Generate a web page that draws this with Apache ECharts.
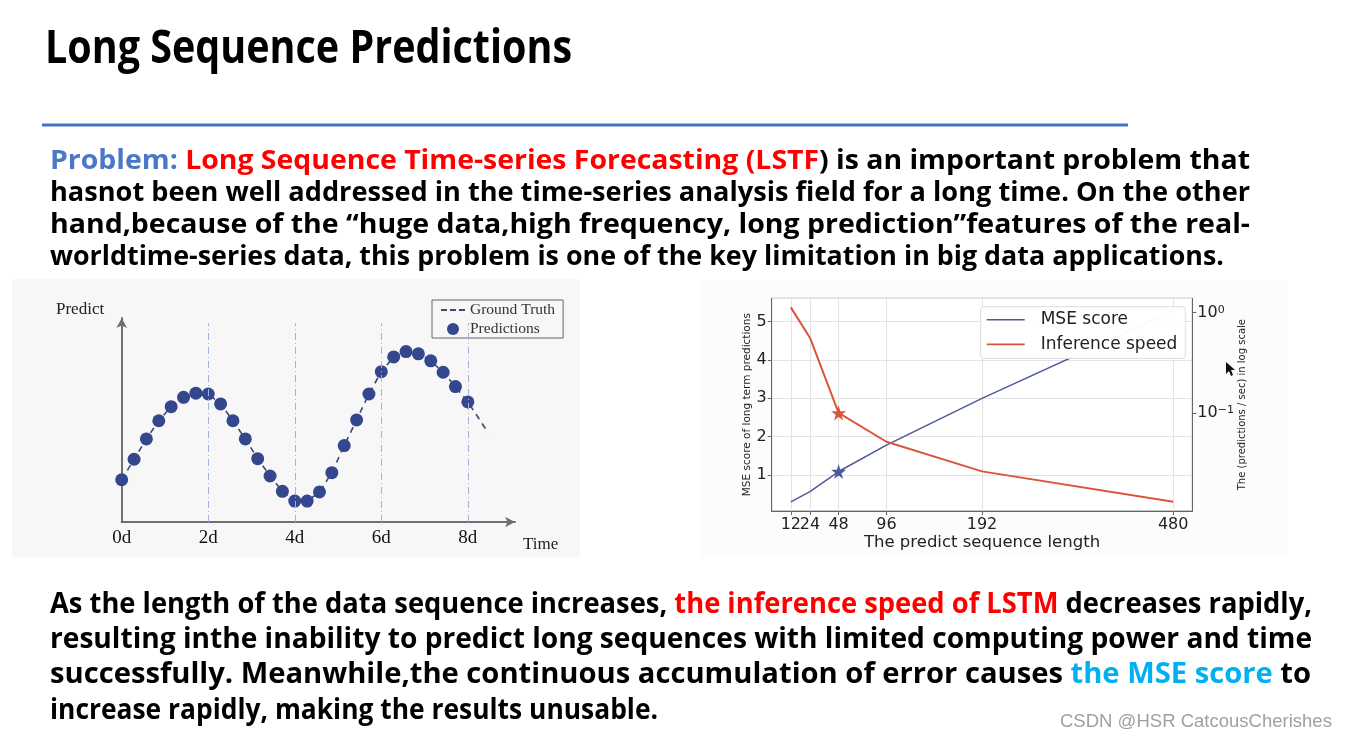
<!DOCTYPE html>
<html><head><meta charset="utf-8">
<script src="https://cdn.jsdelivr.net/npm/echarts@6/dist/echarts.min.js"></script>
<style>html,body{margin:0;padding:0;background:#fff}#c{width:1347px;height:739px}</style>
</head><body><div id="c"></div>
<script>
// ---------------- data ----------------
// Left chart: sinusoidal ground truth and predictions (time in days)
const predDays = [0, 0.286, 0.571, 0.857, 1.143, 1.429, 1.714, 2.0, 2.286, 2.571, 2.857, 3.143, 3.429, 3.714,
                  4.0, 4.286, 4.571, 4.857, 5.143, 5.429, 5.714, 6.0, 6.286, 6.571, 6.857, 7.143, 7.429, 7.714, 8.0];
const predValues = [2.04, 3.03, 4.01, 4.89, 5.57, 6.02, 6.22, 6.18, 5.70, 4.89, 4.01, 3.06, 2.22, 1.48,
                    1.01, 1.01, 1.45, 2.38, 3.69, 4.93, 6.18, 7.26, 7.97, 8.23, 8.12, 7.78, 7.23, 6.54, 5.80];
const truthDays = predDays.concat([8.47]);
const truthValues = predValues.concat([4.31]);
const guideDays = [2, 4, 6, 8];
const guideTop = 9.6;
const timeTicks = [0, 2, 4, 6, 8];
const timeTickLabels = ['0d', '2d', '4d', '6d', '8d'];

// Right chart: MSE score (linear, left axis) and inference speed (log, right axis)
const seqLengths = [12, 24, 48, 96, 192, 480];
const seqSlots = [0, 2, 5, 10, 20, 40];          // non-uniform spacing of the original x axis
const mseScore = [0.30, 0.565, 1.09, 1.78, 3.0, 5.28];
const inferenceSpeed = [1.13, 0.564, 0.101, 0.0522, 0.0265, 0.0132];
const starIndex = 2;                              // the 48-length point is marked with a star
const mseTicks = [1, 2, 3, 4, 5];

// ---------------- text ----------------
const titleText = 'Long Sequence Predictions';
const para1 = [
  [['Problem: ', '#4a77c8'], ['Long Sequence Time-series Forecasting (LSTF', '#ff0000'], [') is an important problem that', '#000000']],
  [['hasnot been well addressed in the time-series analysis field for a long time. On the other', '#000000']],
  [['hand,because of the \u201chuge data,high frequency, long prediction\u201dfeatures of the real-', '#000000']],
  [['worldtime-series data, this problem is one of the key limitation in big data applications.', '#000000']]
];
const para2 = [
  [['As the length of the data sequence increases, ', '#000000'], ['the inference speed of LSTM', '#ff0000'], [' decreases rapidly,', '#000000']],
  [['resulting inthe inability to predict long sequences with limited computing power and time', '#000000']],
  [['successfully. Meanwhile,the continuous accumulation of error causes ', '#000000'], ['the MSE score', '#00b0f0'], [' to', '#000000']],
  [['increase rapidly, making the results unusable.', '#000000']]
];
const watermark = 'CSDN @HSR CatcousCherishes';

// ---------------- helpers ----------------
const mctx = document.createElement('canvas').getContext('2d');
function measure(text, weight, size, family) {
  mctx.font = weight + ' ' + size + 'px ' + family;
  return mctx.measureText(text).width;
}
const bodyFamily = '"Open Sans", "Noto Sans", sans-serif';
const lineText = l => l.map(s => s[0]).join('');
const p1Size = 100 * 1200 / measure(lineText(para1[1]), 'bold', 100, bodyFamily);
const p2Size = 100 * 1262 / measure(lineText(para2[1]), 'bold', 100, bodyFamily);
const titleFamily = '"Open Sans", "Noto Sans", sans-serif';
const titleSize = 46;
const titleScale = 527 / measure(titleText, 'bold', titleSize, titleFamily);
const wmFamily = '"Liberation Sans", Arial, sans-serif';
const wmSize = 100 * 272 / measure(watermark, 'normal', 100, wmFamily);

function richLine(segs, size, x, y, targetWidth) {
  const rich = {};
  let txt = '';
  segs.forEach((s, i) => {
    rich['s' + i] = { fill: s[1], color: s[1], fontSize: size, fontFamily: bodyFamily, fontWeight: 'bold' };
    txt += '{s' + i + '|' + s[0] + '}';
  });
  const w = measure(lineText(segs), 'bold', size, bodyFamily);
  const sx = targetWidth ? targetWidth / w : 1;
  return { type: 'text', x: x, y: y, scaleX: sx, silent: true,
           style: { text: txt, rich: rich, align: 'left', verticalAlign: 'middle',
                    fontSize: size, fontFamily: bodyFamily, fontWeight: 'bold' } };
}

const slotMin = -2, slotMax = 42;
const slotCategories = [];
for (let s = slotMin; s <= slotMax; s++) slotCategories.push(String(s));
const slotIndex = L => seqSlots[seqLengths.indexOf(L)] - slotMin;
const tickSlot = (idx) => seqSlots.indexOf(idx + slotMin) >= 0;
// the first label (12) sits on its own axis so that it is not dropped for touching "24"
const firstSlotOnly = (idx) => idx + slotMin === seqSlots[0];
const otherSlots = (idx) => tickSlot(idx) && !firstSlotOnly(idx);
const slotLabel = (val) => { const k = seqSlots.indexOf(Number(val)); return k >= 0 ? String(seqLengths[k]) : ''; };

const starPath = 'path://M50,0 L61,35 L98,35 L68,57 L79,91 L50,70 L21,91 L32,57 L2,35 L39,35 Z';
const dashIcon = 'path://M0,0h6v2h-6zM9,0h6v2h-6zM18,0h6v2h-6z';
const lineIcon = 'path://M0,0h38v1.6h-38z';
const sansFamily = '"DejaVu Sans", sans-serif';
const serifFamily = '"Liberation Serif", "DejaVu Serif", serif';

// ---------------- graphics (text, backgrounds) ----------------
const graphics = [
  { type: 'rect', z: -10, silent: true, shape: { x: 12, y: 279, width: 568, height: 278 }, style: { fill: '#f7f7f7' } },
  { type: 'rect', z: -10, silent: true, shape: { x: 700, y: 280, width: 588, height: 277 }, style: { fill: '#fcfcfc' } },
  { type: 'text', x: 45, y: 50, scaleX: titleScale, silent: true,
    style: { text: titleText, fontSize: titleSize, fontFamily: titleFamily, fontWeight: 'bold',
             fill: '#000', align: 'left', verticalAlign: 'middle' } },
  { type: 'rect', silent: true, shape: { x: 42, y: 123.5, width: 1086, height: 3 }, style: { fill: '#4472c4' } },
  { type: 'text', x: 1060, y: 722, silent: true,
    style: { text: watermark, fontSize: wmSize, fontFamily: wmFamily, fill: '#a0a0a0', align: 'left', verticalAlign: 'middle' } },
  { type: 'text', x: 56, y: 310, silent: true,
    style: { text: 'Predict', fontSize: 17, fontFamily: serifFamily, fill: '#222', align: 'left', verticalAlign: 'middle' } },
  { type: 'text', x: 523, y: 545, silent: true,
    style: { text: 'Time', fontSize: 17, fontFamily: serifFamily, fill: '#222', align: 'left', verticalAlign: 'middle' } },
  { type: 'polygon', silent: true,
    shape: { points: [[1226, 362], [1226, 374], [1229, 371], [1231, 376], [1233, 375], [1231, 370], [1235, 370]] },
    style: { fill: '#111' } }
];
const p1Y = [161, 193, 225, 257];
const p1W = [1200, 1200, 1200, 1174];
para1.forEach((l, i) => graphics.push(richLine(l, p1Size, 50, p1Y[i], p1W[i])));
const p2Y = [605, 640, 675, 711];
const p2W = [1262, 1262, 1261, 608];
para2.forEach((l, i) => graphics.push(richLine(l, p2Size, 50, p2Y[i], p2W[i])));

// ---------------- chart ----------------
const chart = echarts.init(document.getElementById('c'), null, { renderer: 'canvas' });
const seqLabelStyle = { hideOverlap: false, formatter: slotLabel, margin: 6, fontFamily: sansFamily, fontSize: 16, color: '#222' };
const option = {
  animation: false,
  backgroundColor: '#ffffff',
  graphic: graphics,
  grid: [
    { left: 121.7, right: 1347 - 515, top: 318, bottom: 739 - 522 },
    { left: 771.7, right: 1347 - 1192.3, top: 298.3, bottom: 739 - 511,
      show: true, borderColor: '#8a8a8a', borderWidth: 1, backgroundColor: '#ffffff' }
  ],
  legend: [
    { data: [{ name: 'Ground Truth', icon: dashIcon }, { name: 'Predictions', icon: 'circle' }],
      orient: 'vertical', left: 432, top: 300, padding: [2, 8, 1, 9], itemGap: 3,
      itemWidth: 24, itemHeight: 12, borderColor: '#666', borderWidth: 1, selectedMode: false,
      textStyle: { fontFamily: serifFamily, fontSize: 15.5, color: '#333', lineHeight: 16 } },
    { data: [{ name: 'MSE score', icon: lineIcon }, { name: 'Inference speed', icon: lineIcon }],
      orient: 'vertical', left: 980.7, top: 306.7, padding: [4, 8, 5, 6], itemGap: 6.7,
      itemWidth: 38, itemHeight: 2, borderColor: '#dddddd', borderWidth: 1, borderRadius: 3,
      backgroundColor: 'rgba(255,255,255,0.97)', selectedMode: false,
      textStyle: { fontFamily: sansFamily, fontSize: 17, color: '#222', lineHeight: 18, padding: [0, 0, 0, 11] } }
  ],
  xAxis: [
    { type: 'value', gridIndex: 0, min: 0, max: 9.09, interval: 2,
      axisLine: { show: true, symbol: ['none', 'arrow'], symbolSize: [8, 10], lineStyle: { color: '#6f6f6f', width: 2 } },
      axisTick: { show: false }, splitLine: { show: false },
      axisLabel: { showMaxLabel: false, margin: 7, fontFamily: serifFamily, fontSize: 19, color: '#111',
                   formatter: v => { const k = timeTicks.indexOf(v); return k >= 0 ? timeTickLabels[k] : ''; } } },
    { type: 'category', gridIndex: 1, data: slotCategories, boundaryGap: false,
      axisLine: { show: true, lineStyle: { color: '#666' } },
      axisTick: { show: true, interval: otherSlots, length: 4, lineStyle: { color: '#666' } },
      axisLabel: Object.assign({ interval: otherSlots }, seqLabelStyle),
      splitLine: { show: true, interval: tickSlot, lineStyle: { color: '#e3e3e3' } },
      name: 'The predict sequence length', nameLocation: 'middle', nameGap: 20,
      nameTextStyle: { fontFamily: sansFamily, fontSize: 16.5, color: '#222' } },
    { type: 'category', gridIndex: 1, data: slotCategories, boundaryGap: false, position: 'bottom', offset: 0,
      axisLine: { show: false },
      axisTick: { show: true, interval: firstSlotOnly, length: 4, lineStyle: { color: '#666' } },
      axisLabel: Object.assign({ interval: firstSlotOnly, showMinLabel: true }, seqLabelStyle),
      splitLine: { show: false } }
  ],
  yAxis: [
    { type: 'value', gridIndex: 0, min: 0, max: 9.85,
      axisLine: { show: true, symbol: ['none', 'arrow'], symbolSize: [8, 10], lineStyle: { color: '#6f6f6f', width: 2 } },
      axisTick: { show: false }, axisLabel: { show: false }, splitLine: { show: false } },
    { type: 'value', gridIndex: 1, min: 0.06, max: 5.61, splitNumber: 5, position: 'left',
      axisLine: { show: true, lineStyle: { color: '#666' } },
      axisTick: { show: true, length: 4, lineStyle: { color: '#666' } },
      axisLabel: { showMinLabel: false, showMaxLabel: false, margin: 5, fontFamily: sansFamily, fontSize: 16, color: '#222',
                   formatter: v => mseTicks.indexOf(v) >= 0 ? String(v) : '' },
      splitLine: { show: true, lineStyle: { color: '#e3e3e3' } },
      name: 'MSE score of long term predictions', nameLocation: 'middle', nameGap: 18, nameRotate: 90,
      nameTextStyle: { fontFamily: sansFamily, fontSize: 10.5, color: '#222' } },
    { type: 'log', logBase: 10, gridIndex: 1, min: 0.0107, max: 1.39, position: 'right',
      axisLine: { show: true, lineStyle: { color: '#666' } },
      axisTick: { show: true, length: 4, lineStyle: { color: '#666' } },
      axisLabel: { showMinLabel: false, showMaxLabel: false, margin: 5, color: '#222',
                   formatter: v => { const e = Math.round(Math.log10(v)); return '{b|10}{s|' + (e < 0 ? '\u2212' + (-e) : e) + '}'; },
                   rich: { b: { fontFamily: sansFamily, fontSize: 16, color: '#222' },
                           s: { fontFamily: sansFamily, fontSize: 11, color: '#222', verticalAlign: 'top', padding: [0, 0, 6, 0] } } },
      splitLine: { show: false },
      name: 'The (predictions / sec) in log scale', nameLocation: 'middle', nameGap: 44, nameRotate: 90,
      nameTextStyle: { fontFamily: sansFamily, fontSize: 10, color: '#222' } }
  ],
  series: [
    { name: 'guides', type: 'line', xAxisIndex: 0, yAxisIndex: 0, data: [], z: 1, silent: true,
      markLine: { silent: true, symbol: ['none', 'none'], label: { show: false },
                  lineStyle: { color: '#9fb3e0', width: 1, type: [7, 3, 1, 3] },
                  data: guideDays.map(d => [{ coord: [d, 0] }, { coord: [d, guideTop] }]) } },
    { name: 'Ground Truth', type: 'line', xAxisIndex: 0, yAxisIndex: 0, z: 2, symbol: 'none',
      color: '#3d4a70', lineStyle: { color: '#3d4a70', width: 1.6, type: [6, 5] },
      data: truthDays.map((d, i) => [d, truthValues[i]]) },
    { name: 'Predictions', type: 'scatter', xAxisIndex: 0, yAxisIndex: 0, z: 3, symbol: 'circle', symbolSize: 13,
      itemStyle: { color: '#34468d', opacity: 1 },
      data: predDays.map((d, i) => [d, predValues[i]]) },
    { name: 'MSE score', type: 'line', xAxisIndex: 1, yAxisIndex: 1, z: 2, color: '#4d5a9a',
      lineStyle: { width: 1.5, color: '#4d5a9a' }, showAllSymbol: true, symbolSize: 15,
      symbol: (v, p) => p.dataIndex === starIndex ? starPath : 'none',
      itemStyle: { color: '#4d5a9a' },
      data: seqLengths.map((L, i) => [slotIndex(L), mseScore[i]]) },
    { name: 'Inference speed', type: 'line', xAxisIndex: 1, yAxisIndex: 2, z: 2, color: '#d9553b',
      lineStyle: { width: 2, color: '#d9553b' }, showAllSymbol: true, symbolSize: 15,
      symbol: (v, p) => p.dataIndex === starIndex ? starPath : 'none',
      itemStyle: { color: '#d9553b' },
      data: seqLengths.map((L, i) => [slotIndex(L), inferenceSpeed[i]]) }
  ]
};
chart.setOption(option);
</script>
</body></html>
